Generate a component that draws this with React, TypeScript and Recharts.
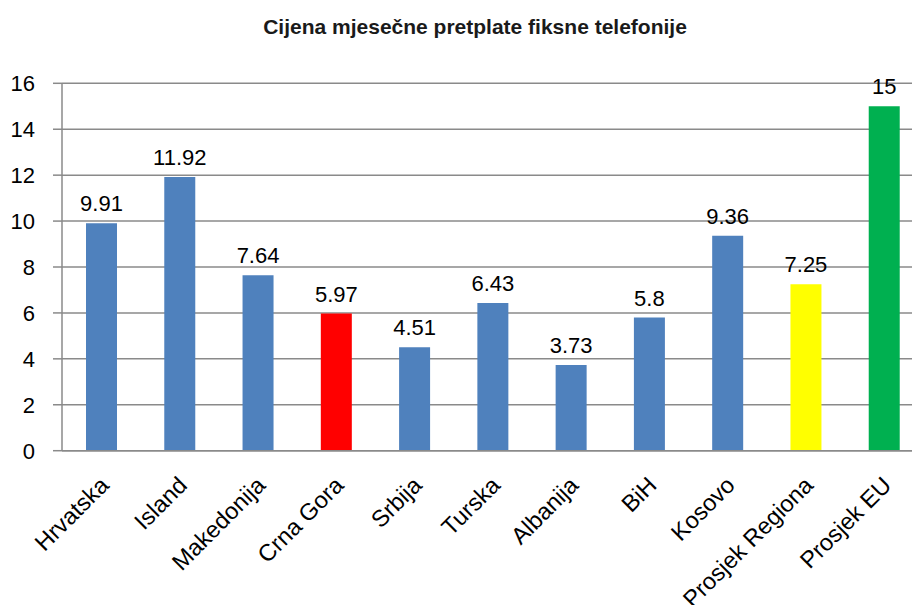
import React from "react";
import { BarChart, Bar, XAxis, YAxis, CartesianGrid, Cell, LabelList } from "recharts";

const categories = ["Hrvatska", "Island", "Makedonija", "Crna Gora", "Srbija", "Turska", "Albanija", "BiH", "Kosovo", "Prosjek Regiona", "Prosjek EU"];
const values = [9.91, 11.92, 7.64, 5.97, 4.51, 6.43, 3.73, 5.8, 9.36, 7.25, 15];
const barColors = ["#4F81BD", "#4F81BD", "#4F81BD", "#FF0000", "#4F81BD", "#4F81BD", "#4F81BD", "#4F81BD", "#4F81BD", "#FFFF00", "#00B050"];
const yTicks = [0, 2, 4, 6, 8, 10, 12, 14, 16];
const edgeTicks = [0, 1, 2, 3, 4, 5, 6, 7, 8, 9, 10, 11];
const title = "Cijena mjesečne pretplate fiksne telefonije";

const data = categories.map((name, i) => ({ name, value: values[i] }));

const FONT = "'Liberation Sans', Arial, sans-serif";
const AXIS = "#8a8a8a";

const CatTick = (props: any) => {
  const { x, y, payload } = props;
  const ax = x + 9;
  const ay = y + 36;
  return (
    <text
      x={ax}
      y={ay}
      transform={`rotate(-45, ${ax}, ${ay})`}
      textAnchor="end"
      fontSize={23.5}
      fontFamily={FONT}
      fill="#000"
    >
      {payload.value}
    </text>
  );
};

export default function App() {
  return (
    <div style={{ position: "absolute", left: 0, top: 0, width: 912, height: 605, overflow: "hidden", background: "#fff" }}>
      <div
        style={{
          position: "absolute",
          left: 0,
          width: 950,
          top: 14,
          lineHeight: "26px",
          textAlign: "center",
          fontFamily: FONT,
          fontWeight: "bold",
          fontSize: 21,
          color: "#1a1a1a",
        }}
      >
        {title}
      </div>
      <div style={{ position: "absolute", left: 0, top: 0 }}>
        <BarChart width={940} height={605} data={data} margin={{ top: 83.3, right: 17, bottom: 0, left: 0 }}>
          <CartesianGrid vertical={false} stroke={AXIS} strokeWidth={1.5} />
          <XAxis
            xAxisId="edge"
            type="number"
            domain={[0, 11]}
            ticks={edgeTicks}
            allowDataOverflow
            height={0}
            tick={false}
            axisLine={false}
            tickLine={{ stroke: AXIS, strokeWidth: 1.5 }}
            tickSize={8}
          />
          <XAxis
            xAxisId="cat"
            dataKey="name"
            height={154.3}
            interval={0}
            tickLine={false}
            tickSize={0}
            tickMargin={0}
            axisLine={{ stroke: AXIS, strokeWidth: 1.5 }}
            tick={<CatTick />}
          />
          <YAxis
            width={62}
            domain={[0, 16]}
            ticks={yTicks}
            interval={0}
            tickSize={9}
            tickMargin={18}
            axisLine={{ stroke: AXIS, strokeWidth: 1.5 }}
            tickLine={{ stroke: AXIS, strokeWidth: 1.5 }}
            tick={{ fill: "#000", fontSize: 22, fontFamily: FONT }}
          />
          <Bar dataKey="value" xAxisId="cat" barSize={31} isAnimationActive={false}>
            {data.map((d, i) => (
              <Cell key={d.name} fill={barColors[i]} />
            ))}
            <LabelList dataKey="value" position="top" offset={12} fill="#000" fontSize={22} fontFamily={FONT} />
          </Bar>
        </BarChart>
      </div>
    </div>
  );
}
